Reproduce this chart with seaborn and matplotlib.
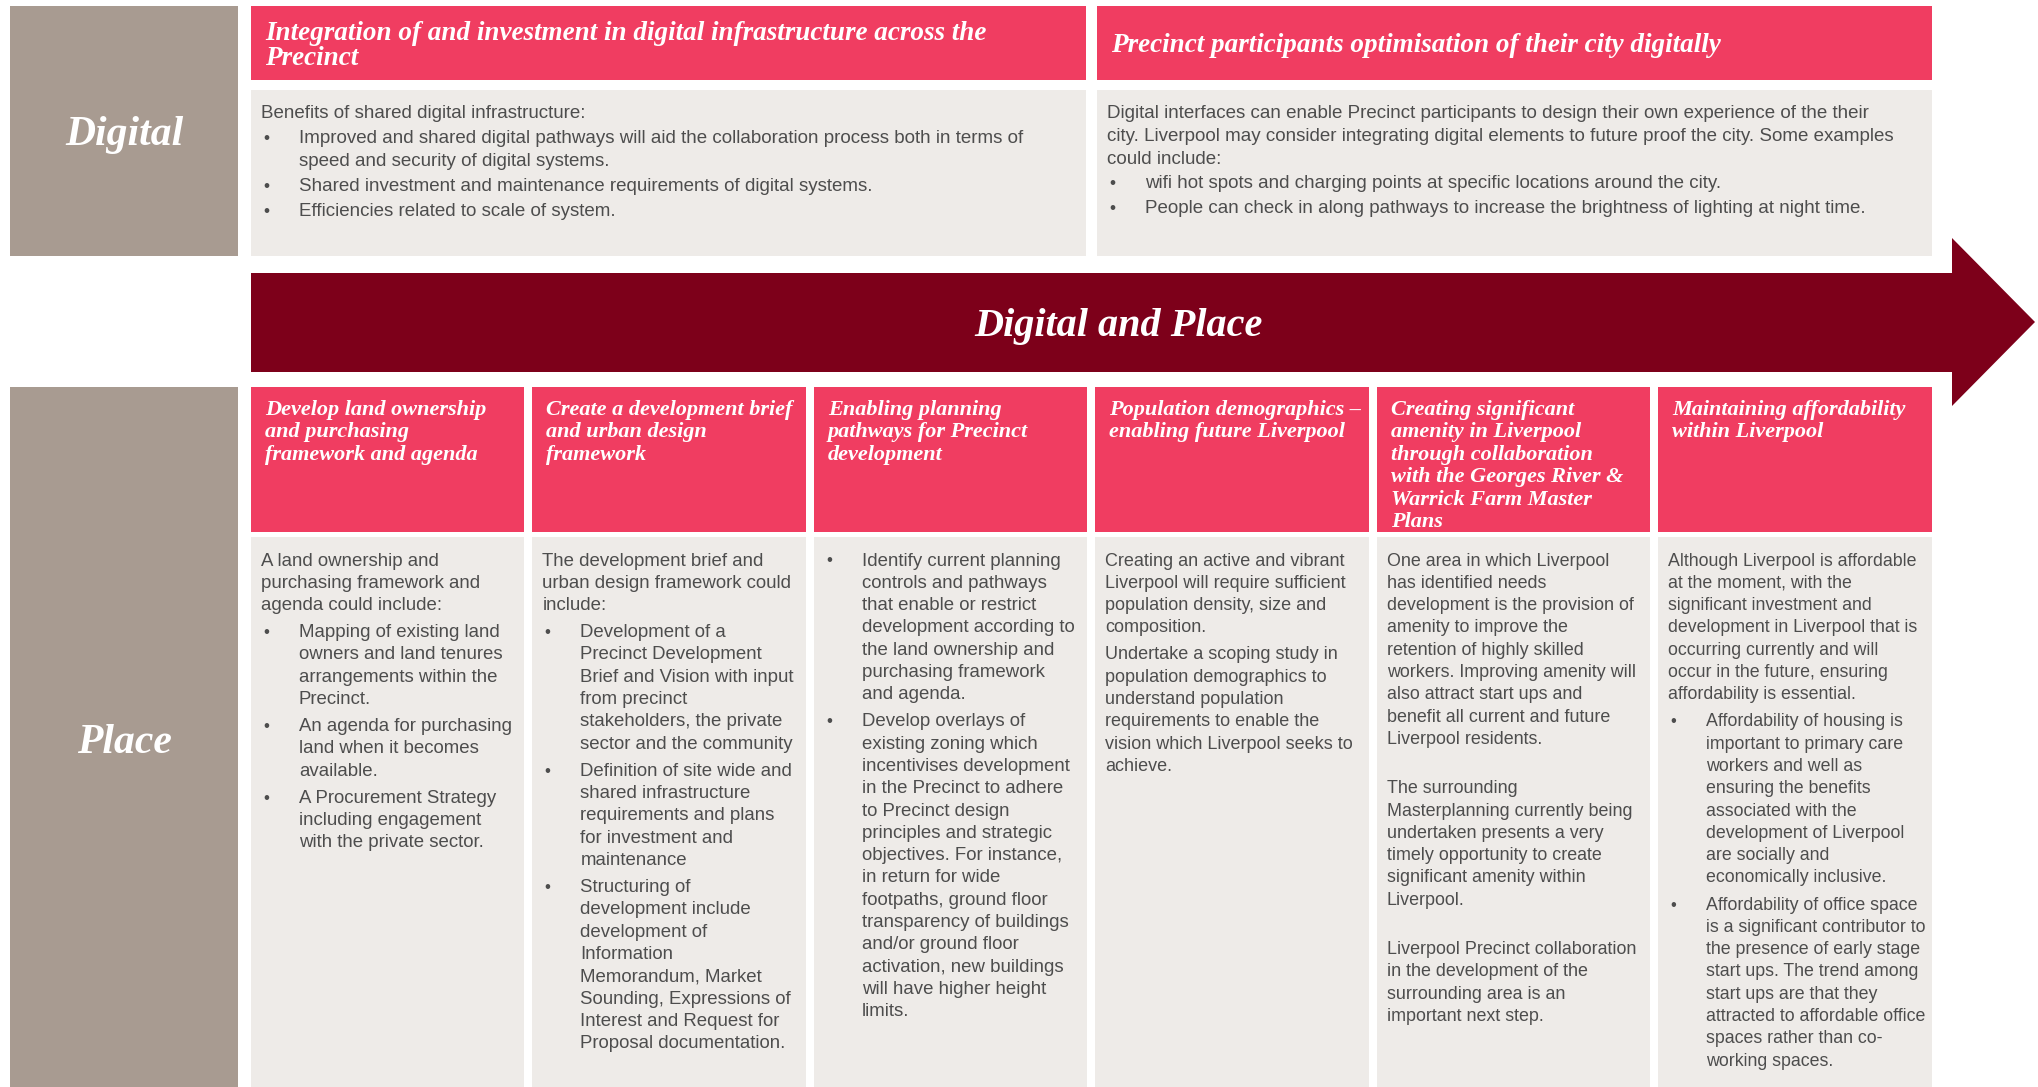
"""
Digital and Place framework diagram
"""

import matplotlib
matplotlib.use("Agg")
import matplotlib.pyplot as plt
from matplotlib.patches import Rectangle, Polygon
import seaborn as sns

# Text content
row_labels = ["Digital", "Place"]
band_label = "Digital and Place"

digital_titles = [
    "Integration of and investment in digital infrastructure across the\nPrecinct",
    "Precinct participants optimisation of their city digitally",
]
digital_bodies = [
    [("p", "Benefits of shared digital infrastructure:"),
     ("b", "Improved and shared digital pathways will aid the collaboration process both in terms of\n"
           "speed and security of digital systems."),
     ("b", "Shared investment and maintenance requirements of digital systems."),
     ("b", "Efficiencies related to scale of system.")],
    [("p", "Digital interfaces can enable Precinct participants to design their own experience of the their\n"
           "city. Liverpool may consider integrating digital elements to future proof the city. Some examples\n"
           "could include:"),
     ("b", "wifi hot spots and charging points at specific locations around the city."),
     ("b", "People can check in along pathways to increase the brightness of lighting at night time.")],
]

place_titles = [
    "Develop land ownership\nand purchasing\nframework and agenda",
    "Create a development brief\nand urban design\nframework",
    "Enabling planning\npathways for Precinct\ndevelopment",
    "Population demographics \u2013\nenabling future Liverpool",
    "Creating significant\namenity in Liverpool\nthrough collaboration\nwith the Georges River &\nWarrick Farm Master\nPlans",
    "Maintaining affordability\nwithin Liverpool",
]
place_bodies = [
    [("p", "A land ownership and\npurchasing framework and\nagenda could include:"),
     ("b", "Mapping of existing land\nowners and land tenures\narrangements within the\nPrecinct."),
     ("b", "An agenda for purchasing\nland when it becomes\navailable."),
     ("b", "A Procurement Strategy\nincluding engagement\nwith the private sector.")],
    [("p", "The development brief and\nurban design framework could\ninclude:"),
     ("b", "Development of a\nPrecinct Development\nBrief and Vision with input\nfrom precinct\n"
           "stakeholders, the private\nsector and the community"),
     ("b", "Definition of site wide and\nshared infrastructure\nrequirements and plans\n"
           "for investment and\nmaintenance"),
     ("b", "Structuring of\ndevelopment include\ndevelopment of\nInformation\nMemorandum, Market\n"
           "Sounding, Expressions of\nInterest and Request for\nProposal documentation.")],
    [("b", "Identify current planning\ncontrols and pathways\nthat enable or restrict\n"
           "development according to\nthe land ownership and\npurchasing framework\nand agenda."),
     ("b", "Develop overlays of\nexisting zoning which\nincentivises development\nin the Precinct to adhere\n"
           "to Precinct design\nprinciples and strategic\nobjectives. For instance,\nin return for wide\n"
           "footpaths, ground floor\ntransparency of buildings\nand/or ground floor\n"
           "activation, new buildings\nwill have higher height\nlimits.")],
    [("p", "Creating an active and vibrant\nLiverpool will require sufficient\npopulation density, size and\ncomposition."),
     ("p", "Undertake a scoping study in\npopulation demographics to\nunderstand population\n"
           "requirements to enable the\nvision which Liverpool seeks to\nachieve.")],
    [("p", "One area in which Liverpool\nhas identified needs\ndevelopment is the provision of\n"
           "amenity to improve the\nretention of highly skilled\nworkers. Improving amenity will\n"
           "also attract start ups and\nbenefit all current and future\nLiverpool residents.\n"),
     ("p", "The surrounding\nMasterplanning currently being\nundertaken presents a very\n"
           "timely opportunity to create\nsignificant amenity within\nLiverpool.\n"),
     ("p", "Liverpool Precinct collaboration\nin the development of the\nsurrounding area is an\nimportant next step.")],
    [("p", "Although Liverpool is affordable\nat the moment, with the\nsignificant investment and\n"
           "development in Liverpool that is\noccurring currently and will\noccur in the future, ensuring\n"
           "affordability is essential."),
     ("b", "Affordability of housing is\nimportant to primary care\nworkers and well as\nensuring the benefits\n"
           "associated with the\ndevelopment of Liverpool\nare socially and\neconomically inclusive."),
     ("b", "Affordability of office space\nis a significant contributor to\nthe presence of early stage\n"
           "start ups. The trend among\nstart ups are that they\nattracted to affordable office\n"
           "spaces rather than co-\nworking spaces.")],
]
# body text in the last two columns is set slightly tighter
place_body_sizes = [13.4, 13.4, 13.4, 13.0, 12.9, 12.8]

# Colours
GREY = "#a89b91"
PINK = "#f03d61"
WINE = "#7d001a"
PANEL = "#eeebe8"
TEXT = "#4d4d4d"

SERIF = dict(family=["Liberation Serif", "DejaVu Serif"], weight="bold", style="italic", color="white")
SANS = dict(family=["Liberation Sans", "DejaVu Sans"], color=TEXT)

W, H = 2038, 1087

sns.set_theme(style="white")
plt.rcParams["font.family"] = ["Liberation Sans", "DejaVu Sans"]


def draw_body(ax, x, y, items, line_h, para_gap, fs):
    """Write paragraphs and bulleted items line by line, top down."""
    for kind, txt in items:
        for i, line in enumerate(txt.split("\n")):
            if kind == "b":
                if i == 0:
                    ax.text(x + 2, y, "\u2022", fontsize=fs - 1, va="center", ha="left", **SANS)
                ax.text(x + 38, y, line, fontsize=fs, va="center", ha="left", **SANS)
            else:
                ax.text(x, y, line, fontsize=fs, va="center", ha="left", **SANS)
            y += line_h
        y += para_gap


def draw_lines(ax, x, y, txt, line_h, fs, **kw):
    for line in txt.split("\n"):
        ax.text(x, y, line, fontsize=fs, va="center", ha="left", **kw)
        y += line_h


fig = plt.figure(figsize=(W / 100, H / 100), dpi=100)
ax = fig.add_axes([0, 0, 1, 1])
ax.set_xlim(0, W)
ax.set_ylim(H, 0)
ax.axis("off")

# layout
label_x0, label_x1 = 10, 238
left = 251
top_gap, bot_gap = 11, 8
right = 1932
top_w = (right - left - top_gap) / 2
bot_w = (right - left - 5 * bot_gap) / 6

dig_y0, dig_head_y1, dig_body_y0, dig_y1 = 6, 80, 90, 256
arr_y0, arr_y1, head_y0, head_y1, arr_x1, tip_x = 273, 372, 238, 406, 1952, 2035
pl_y0, pl_head_y1, pl_body_y0 = 387, 532, 537

# row labels
for lab, (y0, y1) in zip(row_labels, [(dig_y0, dig_y1), (pl_y0, H)]):
    ax.add_patch(Rectangle((label_x0, y0), label_x1 - label_x0, y1 - y0, color=GREY, lw=0))
    ymid = (y0 + y1) / 2 + 4 if lab == row_labels[0] else 743
    ax.text((label_x0 + label_x1) / 2, ymid, lab, fontsize=30, ha="center", va="center", **SERIF)

# digital row
for i, (title, body) in enumerate(zip(digital_titles, digital_bodies)):
    x0 = left + i * (top_w + top_gap)
    ax.add_patch(Rectangle((x0, dig_y0), top_w, dig_head_y1 - dig_y0, color=PINK, lw=0))
    ax.add_patch(Rectangle((x0, dig_body_y0), top_w, dig_y1 - dig_body_y0, color=PANEL, lw=0))
    n = len(title.split("\n"))
    ymid = (dig_y0 + dig_head_y1) / 2 + 3
    draw_lines(ax, x0 + 14, ymid - (n - 1) * 24.7 / 2, title, 24.7, 19.5, **SERIF)
    draw_body(ax, x0 + 10, 114, body, 22.5, 2.4, 13.5)

# arrow band
arrow = Polygon([(left, arr_y0), (arr_x1, arr_y0), (arr_x1, head_y0), (tip_x, (head_y0 + head_y1) / 2),
                 (arr_x1, head_y1), (arr_x1, arr_y1), (left, arr_y1)], closed=True, color=WINE, lw=0)
ax.add_patch(arrow)
ax.text((left + right) / 2 + 27, (arr_y0 + arr_y1) / 2 + 4, band_label, fontsize=29,
        ha="center", va="center", **SERIF)

# place row
for i, (title, body) in enumerate(zip(place_titles, place_bodies)):
    x0 = left + i * (bot_w + bot_gap)
    ax.add_patch(Rectangle((x0, pl_y0), bot_w, pl_head_y1 - pl_y0, color=PINK, lw=0))
    ax.add_patch(Rectangle((x0, pl_body_y0), bot_w, H - pl_body_y0, color=PANEL, lw=0))
    draw_lines(ax, x0 + 14, 410, title, 22.4, 16, **SERIF)
    draw_body(ax, x0 + 10, 561, body, 22.3, 4.8, place_body_sizes[i])

fig.savefig("out.png", dpi=100, facecolor="white")
